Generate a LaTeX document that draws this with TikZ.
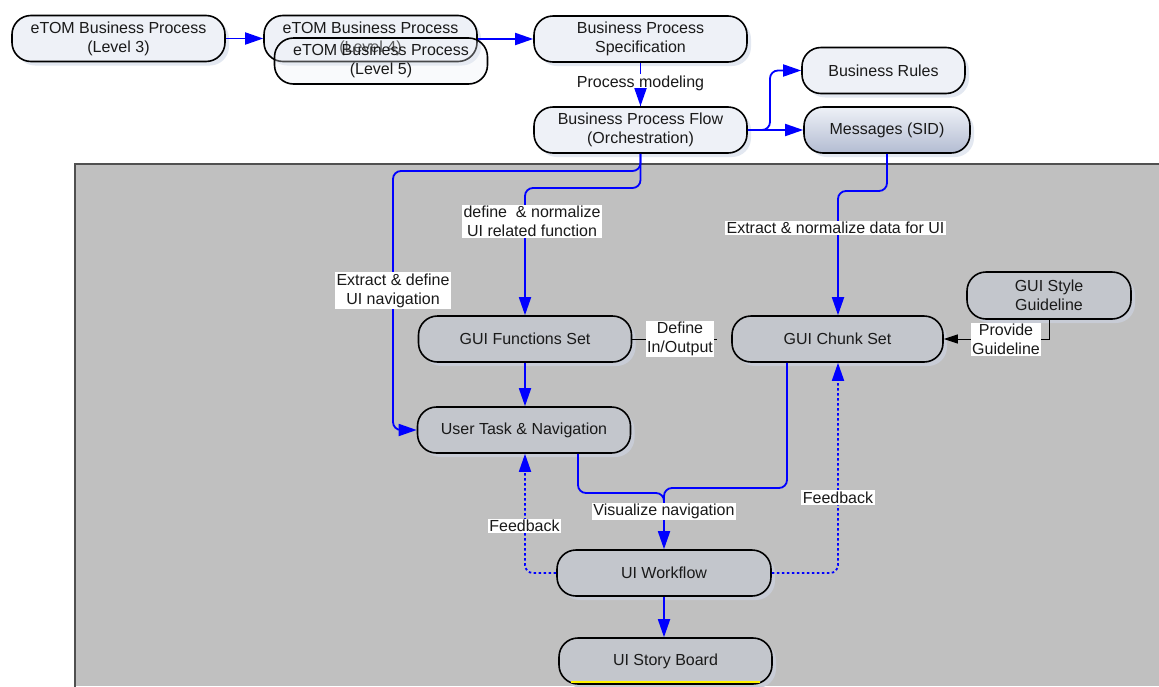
\documentclass[tikz,border=0pt]{standalone}
\usepackage{fontspec}
\setmainfont{Liberation Sans}
\usetikzlibrary{arrows.meta,shadows}
\definecolor{panelgray}{HTML}{C0C0C0}
\definecolor{panelline}{HTML}{505050}
\definecolor{outerfill}{HTML}{EEF1F7}
\definecolor{innerfill}{HTML}{C3C6CC}
\definecolor{msgbottom}{HTML}{B3BCD2}
\definecolor{halo}{HTML}{E3E8F1}
\definecolor{innerhalo}{HTML}{C8CCD6}
\definecolor{flowblue}{HTML}{0000FF}
\definecolor{txt}{HTML}{1A1A1A}
\tikzset{
  proc/.style={draw=black, line width=1.6pt, rounded corners=19pt, align=center,
    text=txt, font=\fontsize{16}{19}\selectfont, inner sep=0pt,
    minimum width=213pt, minimum height=46pt},
  outerbox/.style={proc, fill=outerfill,
    drop shadow={shadow xshift=4pt, shadow yshift=-4pt, fill=halo, opacity=1}},
  innerbox/.style={proc, fill=innerfill,
    drop shadow={shadow xshift=4pt, shadow yshift=-4pt, fill=innerhalo, opacity=1}},
  flow/.style={draw=flowblue, line width=1.8pt, rounded corners=8pt,
    -{Triangle[length=18pt,width=12pt]}},
  flowplain/.style={draw=flowblue, line width=1.8pt, rounded corners=8pt},
  feedback/.style={flow, dash pattern=on 2.5pt off 2.5pt},
  guide/.style={draw=black, line width=1pt, -{Triangle[length=14pt,width=9pt]}},
  lbl/.style={fill=white, inner sep=1.5pt, align=center, text=txt,
    font=\fontsize{16}{19}\selectfont},
}
\begin{document}
\begin{tikzpicture}[x=1pt,y=-1pt]
\useasboundingbox (0,0) rectangle (1159,686);
\fill[white] (0,0) rectangle (1159,686);
% grey working area
\fill[panelgray] (75,164) rectangle (1159,686);
\draw[panelline, line width=1.5pt] (75,690) -- (75,164) -- (1162,164);

% upper row: process definition (level 4 and level 5 boxes overlap)
\node[outerbox] (l3) at (118.5,38.5) {eTOM Business Process\\(Level 3)};
\node[outerbox] (l4) at (370.5,38.5) {eTOM Business Process\\(Level 4)};
\node[proc, fill=outerfill, fill opacity=0.3, text opacity=1] (l5) at (381,61) {eTOM Business Process\\(Level 5)};
\node[outerbox] (bps) at (640.5,39) {Business Process\\Specification};
\node[outerbox] (bpf) at (640.5,130) {Business Process Flow\\(Orchestration)};
\node[outerbox, minimum width=163pt] (rules) at (883.5,70.5) {Business Rules};
\node[proc, minimum width=166pt, top color=outerfill, bottom color=msgbottom,
  drop shadow={shadow xshift=4pt, shadow yshift=-4pt, fill=halo, opacity=1}] (msg) at (887,130) {Messages (SID)};

% lower area: UI design
\node[innerbox] (funcs) at (525,339) {GUI Functions Set};
\node[innerbox] (task) at (524,430) {User Task \& Navigation};
\node[innerbox, minimum width=211pt] (chunk) at (837.5,339) {GUI Chunk Set};
\node[innerbox, minimum width=164pt, minimum height=47pt] (style) at (1049,295.5) {GUI Style\\Guideline};
\node[innerbox, minimum width=214pt] (wf) at (664,573) {UI Workflow};
\node[innerbox, minimum width=213pt] (sb) at (665.5,661) {UI Story Board};
\draw[yellow, line width=2.5pt] (571,682) -- (760,682);

% routing points
\coordinate (rulesbend) at (770,95);
\coordinate (navbend) at (393,171);
\coordinate (funcbend) at (525,188);
\coordinate (msgbend) at (838,191);
\coordinate (funcx) at (525,0);
\coordinate (taskx) at (578,0);
\coordinate (chunkx) at (787,0);
\coordinate (vizjoin) at (664,493);
\coordinate (vizjoin2) at (664,488);
\coordinate (vizend) at (664,505);

% top flows
\draw[flow] (l3) -- (l4);
\draw[flow] (l4.east |- bps) -- (bps);
\draw[flowplain] (bps) -- node[lbl, pos=0.47] (pm) {Process modeling} (bpf);
\draw[flow] (pm.south -| bpf) -- (bpf.north);
\draw[flow] (bpf.east) -| (rulesbend) |- (rules.west);
\draw[flow] (bpf.east) -- (msg.west);

% derivation into the UI artefacts
\draw[flow] (bpf.south) |- (navbend) |- (task.west);
\node[lbl] at (393,290.5) {Extract \& define\\UI navigation};
\draw[flow] (bpf.south) |- (funcbend) -- (funcs.north -| funcx);
\node[lbl] at (532,221.5) {define\ \ \& normalize\\UI related function};
\draw[flow] (msg.south) |- (msgbend) -- (chunk.north -| msgbend);
\node[lbl] at (835.5,228) {Extract \& normalize data for UI};

% guideline and function/chunk relation
\draw[guide] (style.south) |- (chunk.east);
\node[lbl, inner sep=1pt] at (1006,339.5) {Provide\\Guideline};
\draw[draw=black, line width=1pt, shorten >=14pt] (funcs.east) -- (chunk.west);
\node[lbl, inner sep=1pt] at (680,339) {Define\\In/Output};

% workflow composition
\draw[flow] (funcs.south -| funcx) -- (task.north -| funcx);
\draw[flow] (task.south -| taskx) |- (vizjoin) -- (wf.north);
\draw[flowplain] (chunk.south -| chunkx) |- (vizjoin2) -- (vizend);
\node[lbl] at (664,511.5) {Visualize navigation};
\draw[flow] (wf.south) -- (sb.north -| wf.south);

% feedback loops
\draw[feedback] (wf.west) -| (task.south -| funcx);
\node[lbl] at (524.5,526) {Feedback};
\draw[feedback] (wf.east) -| (chunk.south -| msgbend);
\node[lbl] at (838,497.5) {Feedback};
\end{tikzpicture}
\end{document}
